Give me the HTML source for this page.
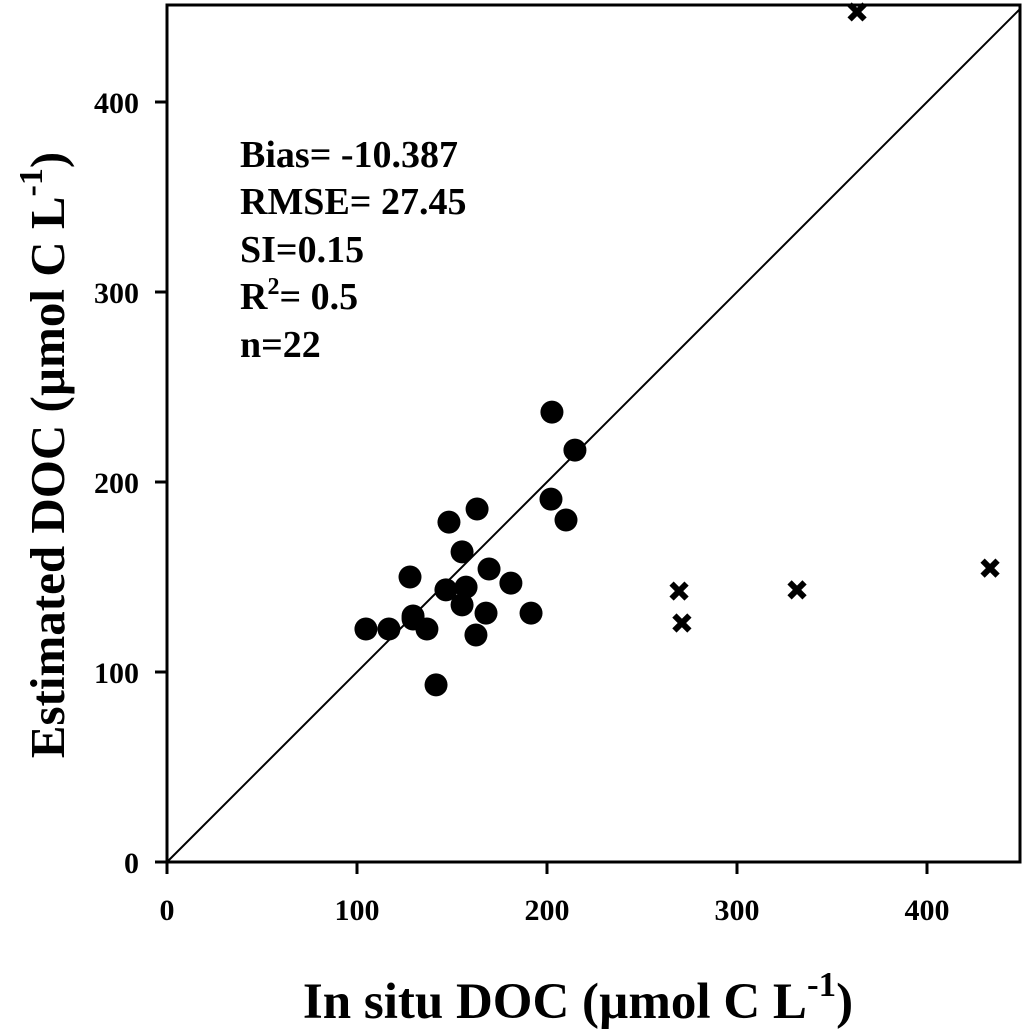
<!DOCTYPE html>
<html><head><meta charset="utf-8"><style>
body{margin:0;background:#fff;}
svg text{font-family:"Liberation Serif",serif;font-weight:bold;fill:#000;}
</style></head><body>
<svg id="chart" width="1024" height="1030">
<g id="plot"></g>
</svg>
<script>
const xTicks=[0,100,200,300,400];
const yTicks=[0,100,200,300,400];
const circX=[104.7,116.8,136.8,129.5,129.5,127.9,148.4,163.2,155.3,146.8,157.4,155.3,169.5,181,167.9,162.6,191.6,141.6,202.6,202.1,210,214.7];
const circY=[122.6,122.6,122.6,127.9,129.5,150,178.9,185.8,163.2,143.2,144.7,135.3,154.2,146.8,131,119.5,131,93.2,236.8,191,180,216.8];
const crossX=[363.2,269.5,271,331.6,433.2];
const crossY=[447.4,142.6,125.8,143.2,154.7];
const X0=167,Y0=862,K=1.9,MAX=450;
const sx=v=>X0+v*K, sy=v=>Y0-v*K;
const NS="http://www.w3.org/2000/svg";
const g=document.getElementById('plot');
function mk(t,a,txt){const e=document.createElementNS(NS,t);for(const k in a)e.setAttribute(k,a[k]);if(txt!==undefined)e.textContent=txt;g.appendChild(e);return e;}
let e;
e=mk('rect',{x:X0,y:5,width:1020-X0,height:Y0-5,fill:'none',stroke:'#000','stroke-width':3});


e=mk('line',{x1:sx(0),y1:sy(0),x2:1020,y2:Y0-(1020-X0),stroke:'#000','stroke-width':2});


xTicks.forEach(v=>{
 e=mk('line',{x1:sx(v),y1:Y0,x2:sx(v),y2:Y0+12,stroke:'#000','stroke-width':3});
 
 
 e=mk('text',{x:sx(v),y:920,'font-size':30,'text-anchor':'middle'},v);
 
 
});
yTicks.forEach(v=>{
 e=mk('line',{x1:X0-12,y1:sy(v),x2:X0,y2:sy(v),stroke:'#000','stroke-width':3});
 
 
 e=mk('text',{x:139,y:sy(v)+11,'font-size':30,'text-anchor':'end'},v);
 
 
});
circX.forEach((v,i)=>{
 e=mk('circle',{cx:sx(v),cy:sy(circY[i]),r:11.5,fill:'#000'});
 
 
});
crossX.forEach((v,i)=>{
 const cx=sx(v),cy=sy(crossY[i]),d=7.5;
 e=mk('path',{d:`M${cx-d} ${cy-d}L${cx+d} ${cy+d}M${cx+d} ${cy-d}L${cx-d} ${cy+d}`,stroke:'#000','stroke-width':6});
 
 
});
const stats=[['Bias= -10.387',165],['RMSE= 27.45',212],['SI=0.15',260],['R2= 0.5',307],['n=22',355]];
stats.forEach(([t,y])=>{
 e=mk('text',{x:240,y:y+2,'font-size':38});
 if(t==='R2= 0.5'){e.innerHTML='R<tspan dy="-15" font-size="24">2</tspan><tspan dy="15">= 0.5</tspan>';}
 else e.textContent=t;
 
 
});
e=mk('text',{x:578,y:1018,'font-size':51,'text-anchor':'middle'});
e.innerHTML='In situ DOC (µmol C L<tspan dy="-22" font-size="35">-1</tspan><tspan dy="22">)</tspan>';


e=mk('text',{x:0,y:0,'font-size':49,'text-anchor':'middle',transform:'translate(64,455) rotate(-90)'});
e.innerHTML='Estimated DOC (µmol C L<tspan dy="-22" font-size="34">-1</tspan><tspan dy="22">)</tspan>';


</script>
</body></html>
